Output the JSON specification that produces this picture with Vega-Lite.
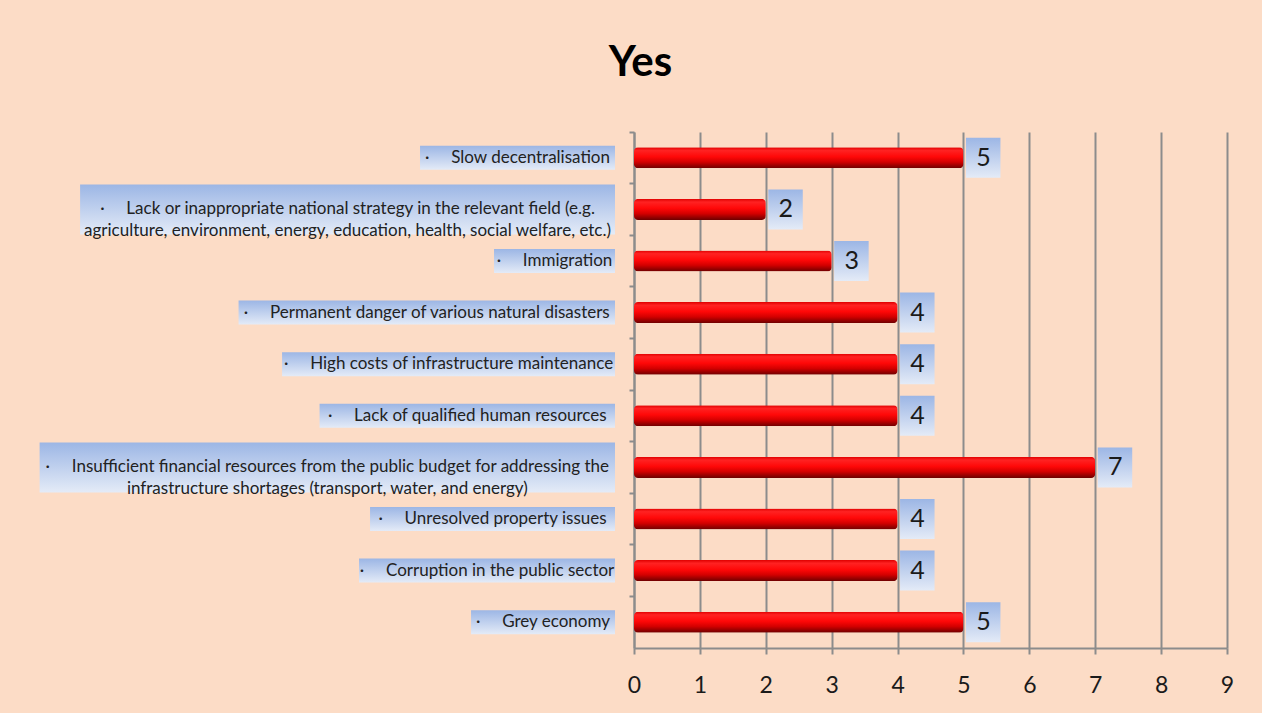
{
  "$schema": "https://vega.github.io/schema/vega-lite/v6.json",
  "autosize": "none",
  "width": 593,
  "height": 516,
  "padding": {"left": 634, "top": 132, "right": 35, "bottom": 65},
  "background": "#FCDCC6",
  "title": {
    "text": "Yes",
    "fontSize": 42,
    "fontWeight": "bold",
    "font": "Lato",
    "color": "#000000",
    "anchor": "middle",
    "dx": -290,
    "offset": 46
  },
  "config": {
    "view": {"stroke": null},
    "font": "Lato"
  },
  "data": {
    "values": [
      {"label": "·\u00a0\u00a0\u00a0\u00a0\u00a0Slow decentralisation", "value": 5},
      {"label": "·\u00a0\u00a0\u00a0\u00a0\u00a0Lack or inappropriate national strategy in the relevant field (e.g.|agriculture, environment, energy, education, health, social welfare, etc.)", "value": 2},
      {"label": "·\u00a0\u00a0\u00a0\u00a0\u00a0Immigration", "value": 3},
      {"label": "·\u00a0\u00a0\u00a0\u00a0\u00a0Permanent danger of various natural disasters", "value": 4},
      {"label": "·\u00a0\u00a0\u00a0\u00a0\u00a0High costs of infrastructure maintenance", "value": 4},
      {"label": "·\u00a0\u00a0\u00a0\u00a0\u00a0Lack of qualified human resources", "value": 4},
      {"label": "·\u00a0\u00a0\u00a0\u00a0\u00a0Insufficient financial resources from the public budget for addressing the|infrastructure shortages (transport, water, and energy)", "value": 7},
      {"label": "·\u00a0\u00a0\u00a0\u00a0\u00a0Unresolved property issues", "value": 4},
      {"label": "·\u00a0\u00a0\u00a0\u00a0\u00a0Corruption in the public sector", "value": 4},
      {"label": "·\u00a0\u00a0\u00a0\u00a0\u00a0Grey economy", "value": 5}
    ]
  },
  "transform": [
    {"calculate": "split(datum.label, '|')", "as": "lines"},
    {"calculate": "length(datum.lines)", "as": "nlines"},
    {"calculate": "datum.lines[0]", "as": "l0"},
    {"calculate": "peek(datum.lines)", "as": "l1"},
    {"calculate": "10 * length(datum.l0) - 6.5 * (length(datum.l0) - length(replace(datum.l0, regexp('[iltfjr ,.()\u00a0\u00b7-]', 'g'), '')))", "as": "w0"},
    {"calculate": "10 * length(datum.l1) - 6.5 * (length(datum.l1) - length(replace(datum.l1, regexp('[iltfjr ,.()\u00a0\u00b7-]', 'g'), '')))", "as": "w1"},
    {"calculate": "-(19 + max(datum.w0, datum.w1) + 16) / 65.9", "as": "boxStart"},
    {"calculate": "-19 / 65.9", "as": "boxEnd"},
    {"calculate": "(datum.boxStart + datum.boxEnd) / 2", "as": "boxMid"}
  ],
  "encoding": {
    "y": {
      "field": "label",
      "type": "nominal",
      "sort": null,
      "scale": {"paddingInner": 0, "paddingOuter": 0},
      "axis": {
        "title": null,
        "labels": false,
        "domain": true,
        "domainColor": "#8C8C8C",
        "domainWidth": 2,
        "ticks": true,
        "tickColor": "#8C8C8C",
        "tickWidth": 2,
        "tickSize": 5,
        "bandPosition": 0,
        "grid": false
      }
    }
  },
  "layer": [
    {
      "mark": {
        "type": "bar",
        "clip": false,
        "fill": {
          "gradient": "linear",
          "x1": 0, "y1": 0, "x2": 0, "y2": 1,
          "stops": [
            {"offset": 0, "color": "#9CB6E5"},
            {"offset": 1, "color": "#E4EBF7"}
          ]
        }
      },
      "encoding": {
        "x": {"field": "boxStart", "type": "quantitative"},
        "x2": {"field": "boxEnd"},
        "size": {
          "field": "nlines",
          "type": "quantitative",
          "scale": {"type": "linear", "domain": [1, 2], "range": [24, 50]},
          "legend": null
        }
      }
    },
    {
      "mark": {
        "type": "text",
        "clip": false,
        "lineBreak": "|",
        "align": "center",
        "baseline": "middle",
        "fontSize": 17,
        "lineHeight": 22,
        "font": "Lato",
        "color": "#222222"
      },
      "encoding": {
        "x": {"field": "boxMid", "type": "quantitative"},
        "text": {"field": "label"}
      }
    },
    {
      "mark": {
        "type": "bar",
        "size": 21,
        "cornerRadius": 4,
        "fill": {
          "gradient": "linear",
          "x1": 0, "y1": 0, "x2": 0, "y2": 1,
          "stops": [
            {"offset": 0, "color": "#E00000"},
            {"offset": 0.15, "color": "#FF2222"},
            {"offset": 0.45, "color": "#FF0808"},
            {"offset": 0.7, "color": "#D40000"},
            {"offset": 1, "color": "#6E0000"}
          ]
        }
      },
      "encoding": {
        "x": {
          "field": "value",
          "type": "quantitative",
          "scale": {"domain": [0, 9], "nice": false, "zero": true},
          "axis": {
            "title": null,
            "values": [0, 1, 2, 3, 4, 5, 6, 7, 8, 9],
            "format": "d",
            "grid": true,
            "gridColor": "#8C8C8C",
            "gridWidth": 2,
            "domain": true,
            "domainColor": "#8C8C8C",
            "domainWidth": 2,
            "ticks": true,
            "tickColor": "#8C8C8C",
            "tickWidth": 2,
            "tickSize": 6,
            "labelFontSize": 23,
            "labelColor": "#1A1A1A",
            "labelFont": "Lato",
            "labelPadding": 20,
            "labelFlush": false
          }
        }
      }
    },
    {
      "mark": {
        "type": "point",
        "clip": false,
        "filled": true,
        "opacity": 1,
        "size": 400,
        "shape": "M0.25,-2H3.7V2H0.25Z",
        "fill": {
          "gradient": "linear",
          "x1": 0, "y1": 0, "x2": 0, "y2": 1,
          "stops": [
            {"offset": 0, "color": "#9CB6E5"},
            {"offset": 1, "color": "#E4EBF7"}
          ]
        },
        "strokeWidth": 0
      },
      "encoding": {
        "x": {"field": "value", "type": "quantitative"}
      }
    },
    {
      "mark": {
        "type": "text",
        "clip": false,
        "align": "center",
        "baseline": "middle",
        "dx": 20,
        "fontSize": 25,
        "font": "Lato",
        "color": "#1A1A1A"
      },
      "encoding": {
        "x": {"field": "value", "type": "quantitative"},
        "text": {"field": "value", "type": "quantitative"}
      }
    }
  ]
}
